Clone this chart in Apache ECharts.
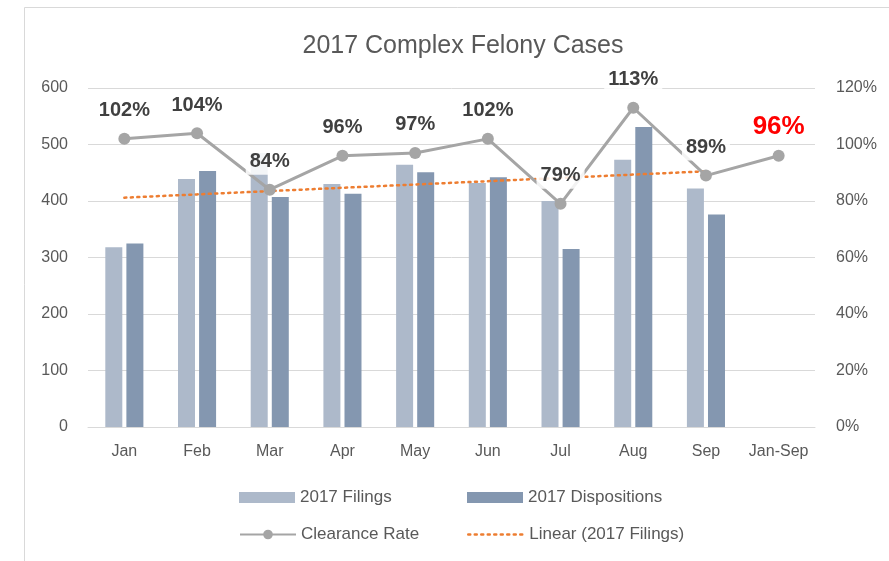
<!DOCTYPE html>
<html>
<head>
<meta charset="utf-8">
<script src="https://cdn.jsdelivr.net/npm/echarts@6/dist/echarts.min.js"></script>
<style>
html,body{margin:0;padding:0;background:#fff;}
#main{width:889px;height:561px;}
</style>
</head>
<body>
<div id="main"></div>
<script>
const categories = ['Jan','Feb','Mar','Apr','May','Jun','Jul','Aug','Sep','Jan-Sep'];
const filings = [318, 439, 485, 430, 464, 432, 400, 473, 422, null];
const dispositions = [325, 453, 407, 413, 451, 442, 315, 531, 376, null];
const clearanceRate = [1.02, 1.04, 0.84, 0.96, 0.97, 1.02, 0.79, 1.13, 0.89, 0.96];
const leftTicks = [0, 100, 200, 300, 400, 500, 600];
const rightTicks = [0, 0.2, 0.4, 0.6, 0.8, 1.0, 1.2];

// Linear trend (least squares) of 2017 Filings
const pts = filings.map((v, i) => [i, v]).filter(p => p[1] != null);
const mx = pts.reduce((s, p) => s + p[0], 0) / pts.length;
const my = pts.reduce((s, p) => s + p[1], 0) / pts.length;
const slope = pts.reduce((s, p) => s + (p[0] - mx) * (p[1] - my), 0) / pts.reduce((s, p) => s + (p[0] - mx) ** 2, 0);
const trend = filings.map((v, i) => v == null ? null : my + slope * (i - mx));

const FONT = 'Liberation Sans';
const TXT = '#595959';

const chart = echarts.init(document.getElementById('main'), null, {renderer: 'canvas'});

const rateData = clearanceRate.map((v, i) => {
  if (i === clearanceRate.length - 1) {
    return {value: v, label: {color: '#FF0000', fontSize: 26, distance: 7}};
  }
  return v;
});

const legendBase = {
  orient: 'horizontal',
  padding: 0,
  itemWidth: 56,
  itemHeight: 11,
  textStyle: {color: TXT, fontSize: 17, fontFamily: FONT},
  selectedMode: false
};

chart.setOption({
  animation: false,
  backgroundColor: '#fff',
  textStyle: {fontFamily: FONT},
  graphic: [{
    type: 'rect',
    shape: {x: 24.5, y: 7.5, width: 900, height: 600},
    style: {fill: 'none', stroke: '#D9D9D9', lineWidth: 1},
    z: -1
  }],
  title: {
    text: '2017 Complex Felony Cases',
    left: 458,
    textAlign: 'center',
    top: 29,
    textStyle: {color: TXT, fontSize: 25, fontWeight: 'normal', fontFamily: FONT}
  },
  legend: [
    Object.assign({}, legendBase, {left: 239, top: 489, data: [{name: '2017 Filings', icon: 'rect'}]}),
    Object.assign({}, legendBase, {left: 467, top: 489, data: [{name: '2017 Dispositions', icon: 'rect'}]}),
    Object.assign({}, legendBase, {left: 239, top: 526, itemHeight: 12, data: ['Clearance Rate']}),
    Object.assign({}, legendBase, {left: 467, top: 526, data: [{
      name: 'Linear (2017 Filings)',
      itemStyle: {opacity: 0},
      lineStyle: {color: '#ED7D31', width: 2.5, type: [2, 4.5], cap: 'round'}
    }]})
  ],
  grid: {left: 88, right: 74, top: 88, bottom: 134},
  xAxis: {
    type: 'category',
    data: categories,
    axisLine: {lineStyle: {color: '#D9D9D9', width: 1}},
    axisTick: {show: false},
    axisLabel: {color: TXT, fontSize: 16, margin: 17, fontFamily: FONT, interval: 0}
  },
  yAxis: [{
    type: 'value',
    min: leftTicks[0],
    max: leftTicks[leftTicks.length - 1],
    interval: 100,
    axisLine: {show: false},
    axisTick: {show: false},
    axisLabel: {color: TXT, fontSize: 16, margin: 20, fontFamily: FONT},
    splitLine: {lineStyle: {color: '#D9D9D9', width: 1}}
  }, {
    type: 'value',
    min: rightTicks[0],
    max: rightTicks[rightTicks.length - 1],
    interval: 0.2,
    axisLine: {show: false},
    axisTick: {show: false},
    axisLabel: {color: TXT, fontSize: 16, margin: 21, fontFamily: FONT,
      formatter: v => Math.round(v * 100) + '%'},
    splitLine: {show: false}
  }],
  series: [{
    name: '2017 Filings',
    type: 'bar',
    data: filings,
    barWidth: 17,
    barGap: '24%',
    itemStyle: {color: '#ADB9CA'},
    z: 2
  }, {
    name: '2017 Dispositions',
    type: 'bar',
    data: dispositions,
    barWidth: 17,
    itemStyle: {color: '#8497B0'},
    z: 2
  }, {
    name: 'Linear (2017 Filings)',
    type: 'line',
    data: trend,
    yAxisIndex: 0,
    symbol: 'none',
    lineStyle: {color: '#ED7D31', width: 2.5, type: [2, 4.5], cap: 'round'},
    itemStyle: {color: '#ED7D31'},
    z: 3
  }, {
    name: 'Clearance Rate',
    type: 'line',
    data: rateData,
    yAxisIndex: 1,
    symbol: 'circle',
    symbolSize: 12,
    lineStyle: {color: '#A5A5A5', width: 3},
    itemStyle: {color: '#A5A5A5'},
    z: 4,
    label: {
      show: true,
      position: 'top',
      distance: 9,
      formatter: p => Math.round(p.value * 100) + '%',
      color: '#404040',
      fontSize: 20,
      fontWeight: 'bold',
      fontFamily: FONT,
      backgroundColor: 'rgba(255,255,255,0.85)',
      padding: [3, 4]
    }
  }]
});
</script>
</body>
</html>
